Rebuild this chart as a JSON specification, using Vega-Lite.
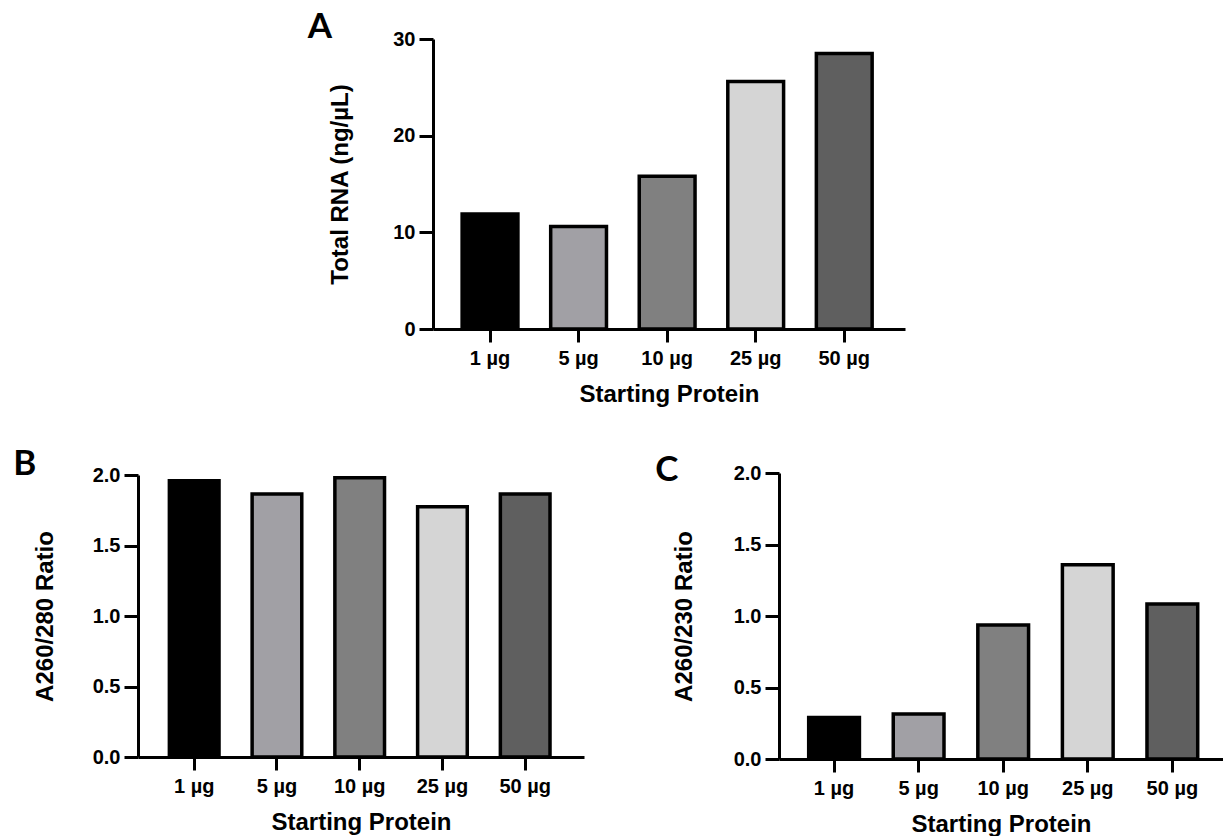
{
  "$schema": "https://vega.github.io/schema/vega-lite/v6.json",
  "background": "white",
  "autosize": {"type": "pad"},
  "padding": {"left": 13, "top": 10, "right": 0, "bottom": 0},
  "config": {
    "view": {"stroke": null},
    "axis": {"domainColor": "black", "domainWidth": 3, "tickColor": "black", "tickWidth": 3, "labelFont": "Liberation Sans", "labelFontWeight": "bold", "labelFontSize": 20, "labelColor": "black", "titleFont": "Liberation Sans", "titleFontWeight": "bold", "titleFontSize": 24, "titleColor": "black", "grid": false},
    "axisX": {"tickSize": 13, "labelPadding": 6, "labelAngle": 0, "titlePadding": 14},
    "axisY": {"tickSize": 14, "labelPadding": 4, "titlePadding": 36},
    "title": {"font": "Lato", "fontSize": 35, "fontWeight": "bold", "anchor": "start", "frame": "bounds", "color": "black"}
  },
  "datasets": {
    "rna": [
      {"protein": "1 µg", "total_rna": 11.9, "a260_280": 1.96, "a260_230": 0.29},
      {"protein": "5 µg", "total_rna": 10.6, "a260_280": 1.865, "a260_230": 0.315},
      {"protein": "10 µg", "total_rna": 15.8, "a260_280": 1.98, "a260_230": 0.937},
      {"protein": "25 µg", "total_rna": 25.6, "a260_280": 1.775, "a260_230": 1.358},
      {"protein": "50 µg", "total_rna": 28.5, "a260_280": 1.865, "a260_230": 1.084}
    ]
  },
  "bounds": "flush",
  "spacing": 434,
  "vconcat": [
    {
      "bounds": "flush",
      "spacing": 0,
      "hconcat": [
        {
          "width": 295,
          "height": 10,
          "data": {"values": []},
          "mark": "point",
          "encoding": {}
        },
        {
          "title": {"text": "A", "dx": -21, "dy": 20},
          "width": 472,
          "height": 290,
          "data": {"name": "rna"},
          "mark": {"type": "bar", "stroke": "black", "strokeWidth": 3.5},
          "encoding": {
            "x": {"field": "protein", "type": "nominal", "sort": null, "title": "Starting Protein",
                  "scale": {"paddingInner": 0.37, "paddingOuter": 0.35, "align": 0.47}},
            "y": {"field": "total_rna", "type": "quantitative", "title": "Total RNA (ng/µL)",
                  "scale": {"domain": [0, 30], "nice": false}, "axis": {"values": [0, 10, 20, 30], "titlePadding": 40}},
            "fill": {"field": "protein", "type": "nominal", "sort": null, "legend": null,
                     "scale": {"domain": ["1 µg", "5 µg", "10 µg", "25 µg", "50 µg"], "range": ["#000000", "#a1a0a5", "#808080", "#d5d5d5", "#5f5f5f"]}}
          }
        }
      ]
    },
    {
      "bounds": "flush",
      "center": true,
      "spacing": 195,
      "hconcat": [
        {
          "title": {"text": "B", "dx": -20, "dy": 21},
          "width": 446,
          "height": 282,
          "data": {"name": "rna"},
          "mark": {"type": "bar", "stroke": "black", "strokeWidth": 3.5},
          "encoding": {
            "x": {"field": "protein", "type": "nominal", "sort": null, "title": "Starting Protein",
                  "scale": {"paddingInner": 0.4, "paddingOuter": 0.395, "align": 0.48}},
            "y": {"field": "a260_280", "type": "quantitative", "title": "A260/280 Ratio",
                  "scale": {"domain": [0, 2], "nice": false}, "axis": {"values": [0, 0.5, 1, 1.5, 2], "format": ".1f", "titlePadding": 35}},
            "fill": {"field": "protein", "type": "nominal", "sort": null, "legend": null,
                     "scale": {"domain": ["1 µg", "5 µg", "10 µg", "25 µg", "50 µg"], "range": ["#000000", "#a1a0a5", "#808080", "#d5d5d5", "#5f5f5f"]}}
          }
        },
        {
          "title": {"text": "C", "dx": -17, "dy": 29},
          "width": 444,
          "height": 286,
          "data": {"name": "rna"},
          "mark": {"type": "bar", "stroke": "black", "strokeWidth": 3.5},
          "encoding": {
            "x": {"field": "protein", "type": "nominal", "sort": null, "title": "Starting Protein",
                  "scale": {"paddingInner": 0.4, "paddingOuter": 0.325, "align": 0.54}},
            "y": {"field": "a260_230", "type": "quantitative", "title": "A260/230 Ratio",
                  "scale": {"domain": [0, 2], "nice": false}, "axis": {"values": [0, 0.5, 1, 1.5, 2], "format": ".1f", "titlePadding": 37}},
            "fill": {"field": "protein", "type": "nominal", "sort": null, "legend": null,
                     "scale": {"domain": ["1 µg", "5 µg", "10 µg", "25 µg", "50 µg"], "range": ["#000000", "#a1a0a5", "#808080", "#d5d5d5", "#5f5f5f"]}}
          }
        }
      ]
    }
  ]
}
